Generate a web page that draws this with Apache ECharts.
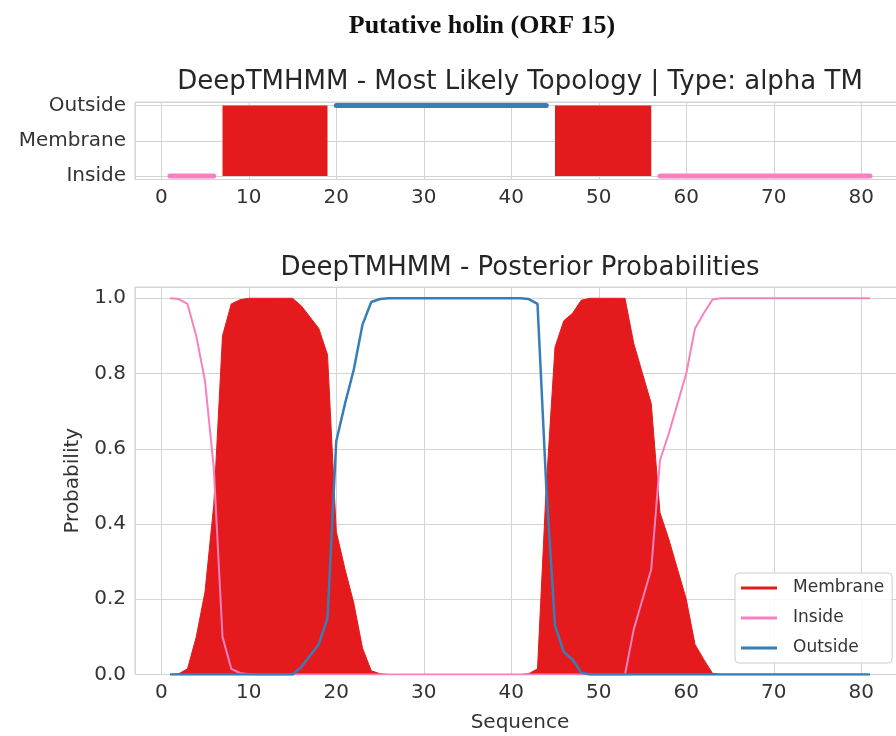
<!DOCTYPE html>
<html>
<head>
<meta charset="utf-8">
<script src="https://cdn.jsdelivr.net/npm/echarts@6/dist/echarts.min.js"></script>
<style>
  html, body { margin: 0; padding: 0; background: #fff; }
  #main { width: 896px; height: 736px; }
</style>
</head>
<body>
<div id="main"></div>
<script>
// residue positions along the sequence
const residues = [
  1, 2, 3, 4, 5, 6, 7, 8, 9, 10, 11, 12, 13, 14, 15, 16, 17, 18, 19, 20,
  21, 22, 23, 24, 25, 26, 27, 28, 29, 30, 31, 32, 33, 34, 35, 36, 37, 38, 39, 40,
  41, 42, 43, 44, 45, 46, 47, 48, 49, 50, 51, 52, 53, 54, 55, 56, 57, 58, 59, 60,
  61, 62, 63, 64, 65, 66, 67, 68, 69, 70, 71, 72, 73, 74, 75, 76, 77, 78, 79, 80, 81
];

// posterior probabilities
const membraneProb = [
  0, 0.002, 0.015, 0.1, 0.22, 0.45, 0.9, 0.985, 0.996, 1,
  1, 1, 1, 1, 1, 0.98, 0.95, 0.92, 0.85, 0.38,
  0.28, 0.19, 0.07, 0.01, 0.002, 0, 0, 0, 0, 0,
  0, 0, 0, 0, 0, 0, 0, 0, 0, 0,
  0, 0.002, 0.015, 0.5, 0.87, 0.94, 0.96, 0.995, 1, 1,
  1, 1, 1, 0.88, 0.8, 0.72, 0.43, 0.36, 0.28, 0.2,
  0.08, 0.04, 0.003, 0, 0, 0, 0, 0, 0, 0,
  0, 0, 0, 0, 0, 0, 0, 0, 0, 0,
  0
];
const insideProb = [
  1, 0.998, 0.985, 0.9, 0.78, 0.55, 0.1, 0.015, 0.004, 0.001,
  0, 0, 0, 0, 0, 0, 0, 0, 0, 0,
  0, 0, 0, 0, 0, 0, 0, 0, 0, 0,
  0, 0, 0, 0, 0, 0, 0, 0, 0, 0,
  0, 0, 0, 0, 0, 0, 0, 0, 0, 0,
  0, 0, 0, 0.12, 0.2, 0.28, 0.57, 0.64, 0.72, 0.8,
  0.92, 0.96, 0.997, 1, 1, 1, 1, 1, 1, 1,
  1, 1, 1, 1, 1, 1, 1, 1, 1, 1,
  1
];
const outsideProb = [
  0, 0, 0, 0, 0, 0, 0, 0, 0, 0,
  0, 0, 0, 0, 0, 0.02, 0.05, 0.08, 0.15, 0.62,
  0.72, 0.81, 0.93, 0.99, 0.998, 1, 1, 1, 1, 1,
  1, 1, 1, 1, 1, 1, 1, 1, 1, 1,
  1, 0.998, 0.985, 0.5, 0.13, 0.06, 0.04, 0.005, 0, 0,
  0, 0, 0, 0, 0, 0, 0, 0, 0, 0,
  0, 0, 0, 0, 0, 0, 0, 0, 0, 0,
  0, 0, 0, 0, 0, 0, 0, 0, 0, 0,
  0
];

// most likely topology, one entry per segment
const segStart = [1, 7, 20, 45, 57];
const segEnd = [6, 19, 44, 56, 81];
const segType = ["Inside", "Membrane", "Outside", "Membrane", "Inside"];

const topoLevels = ["Inside", "Membrane", "Outside"];

const colors = {
  Membrane: "#e41a1c",
  Inside: "#f781bf",
  Outside: "#377eb8",
};

const gridColor = "#d4d4d4";
const textColor = "#333";
const FONT = "DejaVu Sans";

function zip(xs, ys) {
  return xs.map((x, i) => [x, ys[i]]);
}

function xAxisFor(gridIndex, extra) {
  return Object.assign(
    {
      type: "value",
      gridIndex: gridIndex,
      min: -3,
      max: 85,
      minInterval: 10,
      maxInterval: 10,
      axisLine: { show: false },
      axisTick: { show: false },
      splitLine: { show: true, lineStyle: { color: gridColor, width: 1 } },
      axisLabel: {
        showMinLabel: false,
        showMaxLabel: false,
        color: textColor,
        fontFamily: FONT,
        fontSize: 20,
        margin: 8,
      },
    },
    extra || {}
  );
}

// top panel: topology segments
const topoSeries = [];
segType.forEach((type, i) => {
  const lvl = topoLevels.indexOf(type);
  if (type === "Membrane") {
    topoSeries.push({
      name: "topo-" + i,
      type: "line",
      xAxisIndex: 0,
      yAxisIndex: 0,
      data: [
        [segStart[i], topoLevels.indexOf("Outside")],
        [segEnd[i], topoLevels.indexOf("Outside")],
      ],
      showSymbol: false,
      lineStyle: { width: 0, color: colors.Membrane },
      areaStyle: { color: colors.Membrane, opacity: 1, origin: 0 },
      silent: true,
    });
  } else {
    topoSeries.push({
      name: "topo-" + i,
      type: "line",
      xAxisIndex: 0,
      yAxisIndex: 0,
      data: [
        [segStart[i], lvl],
        [segEnd[i], lvl],
      ],
      showSymbol: false,
      clip: false,
      lineStyle: { width: 5, color: colors[type], cap: "round" },
      silent: true,
    });
  }
});

var chartDom = document.getElementById("main");
var myChart = echarts.init(chartDom, null, { renderer: "canvas" });

var option = {
  animation: false,
  backgroundColor: "#ffffff",
  title: [
    {
      text: "Putative holin (ORF 15)",
      left: 477,
      top: 8,
      textAlign: "center",
      textStyle: {
        fontFamily: "Liberation Serif",
        fontWeight: "bold",
        fontSize: 26,
        color: "#111",
      },
    },
    {
      text: "DeepTMHMM - Most Likely Topology | Type: alpha TM",
      left: 515,
      top: 64,
      textAlign: "center",
      textStyle: { fontFamily: FONT, fontWeight: "normal", fontSize: 26, color: "#262626" },
    },
    {
      text: "DeepTMHMM - Posterior Probabilities",
      left: 515,
      top: 250,
      textAlign: "center",
      textStyle: { fontFamily: FONT, fontWeight: "normal", fontSize: 26, color: "#262626" },
    },
  ],
  legend: {
    data: [
      { name: "Membrane", icon: "rect" },
      { name: "Inside", icon: "rect" },
      { name: "Outside", icon: "rect" },
    ],
    orient: "vertical",
    left: 735,
    top: 573,
    itemWidth: 36,
    itemHeight: 3,
    itemGap: 10,
    padding: [5, 8, 5, 6],
    backgroundColor: "rgba(255,255,255,0.85)",
    borderColor: "#cccccc",
    borderWidth: 1,
    borderRadius: 4,
    selectedMode: false,
    textStyle: {
      fontFamily: FONT,
      fontSize: 17,
      lineHeight: 20,
      color: textColor,
      padding: [0, 0, 0, 11],
    },
  },
  grid: [
    {
      left: 135,
      top: 102,
      width: 770,
      height: 77.5,
      show: true,
      borderColor: gridColor,
      borderWidth: 1,
      outerBoundsMode: "none",
    },
    {
      left: 135,
      top: 287,
      width: 770,
      height: 387.5,
      show: true,
      borderColor: gridColor,
      borderWidth: 1,
      outerBoundsMode: "none",
    },
  ],
  xAxis: [
    xAxisFor(0),
    xAxisFor(1, {
      name: "Sequence",
      nameLocation: "middle",
      nameGap: 38,
      nameTextStyle: { fontFamily: FONT, fontSize: 20, color: textColor },
    }),
  ],
  yAxis: [
    {
      type: "value",
      gridIndex: 0,
      min: -0.1,
      max: 2.1,
      minInterval: 1,
      maxInterval: 1,
      axisLine: { show: false },
      axisTick: { show: false },
      splitLine: { show: true, lineStyle: { color: gridColor, width: 1 } },
      axisLabel: {
        showMinLabel: false,
        showMaxLabel: false,
        color: textColor,
        fontFamily: FONT,
        fontSize: 20,
        margin: 9,
        formatter: function (v) {
          return topoLevels[v] || "";
        },
      },
    },
    {
      type: "value",
      gridIndex: 1,
      min: 0,
      max: 1.03,
      interval: 0.2,
      name: "Probability",
      nameLocation: "middle",
      nameGap: 50,
      nameTextStyle: { fontFamily: FONT, fontSize: 20, color: textColor },
      axisLine: { show: false },
      axisTick: { show: false },
      splitLine: { show: true, lineStyle: { color: gridColor, width: 1 } },
      axisLabel: {
        showMaxLabel: false,
        color: textColor,
        fontFamily: FONT,
        fontSize: 20,
        margin: 9,
        formatter: function (v) {
          return v.toFixed(1);
        },
      },
    },
  ],
  series: topoSeries.concat([
    {
      name: "Membrane",
      type: "line",
      xAxisIndex: 1,
      yAxisIndex: 1,
      data: zip(residues, membraneProb),
      showSymbol: false,
      color: colors.Membrane,
      lineStyle: { width: 1, color: colors.Membrane },
      areaStyle: { color: colors.Membrane, opacity: 1 },
    },
    {
      name: "Inside",
      type: "line",
      xAxisIndex: 1,
      yAxisIndex: 1,
      data: zip(residues, insideProb),
      showSymbol: false,
      color: colors.Inside,
      lineStyle: { width: 2, color: colors.Inside },
    },
    {
      name: "Outside",
      type: "line",
      xAxisIndex: 1,
      yAxisIndex: 1,
      data: zip(residues, outsideProb),
      showSymbol: false,
      color: colors.Outside,
      lineStyle: { width: 2.5, color: colors.Outside },
    },
  ]),
};

myChart.setOption(option);
</script>
</body>
</html>
